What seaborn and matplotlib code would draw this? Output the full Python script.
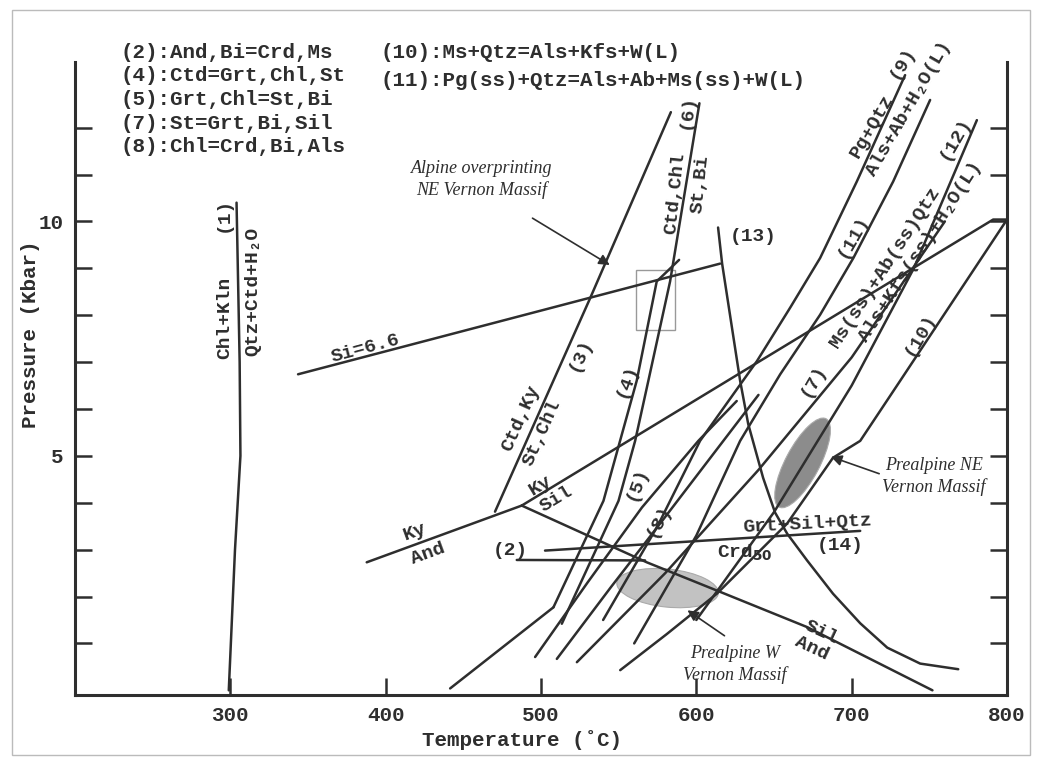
import numpy as np
import matplotlib
matplotlib.use("Agg")
import matplotlib.pyplot as plt
import matplotlib.transforms as mtransforms
from matplotlib.patches import Ellipse, Rectangle
import seaborn as sns

sns.set_theme(style="white")
plt.rcParams['font.family'] = ['Liberation Mono', 'DejaVu Sans Mono']
plt.rcParams['font.weight'] = 'bold'

# reaction curves, temperature (C) and pressure (kbar)
r1_T = [299, 303, 306.5, 306, 304]
r1_P = [0, 3, 5, 7, 10.4]
si_T = [343.6, 615.3]
si_P = [6.74, 9.1]
r13_T = [614, 616.6, 628.2, 633.4, 643, 650.7, 658.5, 671.3, 688, 705.5, 722.9, 744.1, 768.6]
r13_P = [9.87, 9.1, 6.6, 5.68, 4.53, 3.79, 3.34, 2.77, 2.06, 1.43, 0.91, 0.57, 0.45]
r3_T = [470.4, 531.6, 583.6]
r3_P = [3.81, 8.36, 12.33]
kyand_T = [387.8, 487.6]
kyand_P = [2.73, 3.94]
kysil_T = [487.6, 791.1, 800]
kysil_P = [3.94, 10.04, 10.04]
silan_T = [487.6, 568.1, 615.3, 671.2, 752]
silan_P = [3.94, 2.73, 2.1, 1.35, 0]
r2_T = [484.4, 567]
r2_P = [2.78, 2.77]
r14_T = [502.6, 705.5]
r14_P = [2.98, 3.40]
r6_T = [513.4, 549.9, 560.6, 569.1, 583.1, 602]
r6_P = [1.42, 4.04, 5.32, 6.6, 8.72, 12.52]
r4_T = [508, 540.2, 550.9, 561.6, 574.5, 588.9]
r4_P = [1.77, 4.04, 5.32, 6.6, 8.72, 9.18]
r4b_T = [441.5, 508]
r4b_P = [0.04, 1.77]
r5_T = [496.2, 530, 565, 601.3, 626]
r5_P = [0.71, 2.3, 3.9, 5.32, 6.17]
r8_T = [510.2, 545, 580, 610, 640]
r8_P = [0.67, 2.2, 3.7, 5.0, 6.3]
r7_T = [523.1, 580, 640, 700, 760]
r7_P = [0.6, 2.5, 4.7, 7.1, 10.0]
r9_T = [540, 575, 602.4, 639, 660.4, 679.7, 703.3, 734.4]
r9_P = [1.5, 3.5, 5.32, 7.02, 8.16, 9.22, 10.85, 13.12]
r11_T = [560, 600, 628.2, 654, 679.7, 701.1, 726.7, 750.5]
r11_P = [1.0, 3.3, 5.32, 6.74, 8.01, 9.22, 10.85, 12.59]
r12_T = [600, 650, 700, 740, 780.6]
r12_P = [1.5, 3.8, 6.5, 9.0, 12.16]
r10_T = [551, 581, 613.2, 658.3, 688, 705.5, 731.2, 800]
r10_P = [0.43, 1.2, 2.06, 3.55, 4.96, 5.32, 6.6, 10.04]

curves = [(r1_T, r1_P), (si_T, si_P), (r13_T, r13_P), (r3_T, r3_P),
          (kyand_T, kyand_P), (kysil_T, kysil_P), (silan_T, silan_P),
          (r2_T, r2_P), (r14_T, r14_P), (r6_T, r6_P), (r4_T, r4_P),
          (r4b_T, r4b_P), (r5_T, r5_P), (r8_T, r8_P), (r7_T, r7_P),
          (r9_T, r9_P), (r11_T, r11_P), (r12_T, r12_P), (r10_T, r10_P)]

# study areas: centre T, centre P, width px, height px, angle deg
ne_area = [668.4, 4.85, 100, 34, 62]
w_area = [581.5, 2.18, 102, 38, -6]
box_T = [561, 586]
box_P = [7.68, 8.97]

legend_left = ["(2):And,Bi=Crd,Ms", "(4):Ctd=Grt,Chl,St", "(5):Grt,Chl=St,Bi",
               "(7):St=Grt,Bi,Sil", "(8):Chl=Crd,Bi,Als"]
legend_right = ["(10):Ms+Qtz=Als+Kfs+W(L)", "(11):Pg(ss)+Qtz=Als+Ab+Ms(ss)+W(L)"]

# curve labels: text, T, P, rotation
labels = [
    ("(1)", 295.5, 10.14, 90), ("Chl+Kln", 296.6, 7.94, 90),
    ("Qtz+Ctd+H\u2082O", 314.7, 8.51, 90),
    ("Si=6.6", 387, 7.28, 15),
    ("Ctd,Ky", 487, 5.79, 66), ("St,Chl", 500.7, 5.49, 66), ("(3)", 525, 7.17, 66),
    ("Ctd,Chl", 586.3, 10.6, 84), ("St,Bi", 602.4, 10.8, 84), ("(6)", 593.8, 12.34, 84),
    ("(4)", 555.2, 6.6, 70), ("(5)", 561.6, 4.4, 70), ("(8)", 575.6, 3.62, 62),
    ("(13)", 636.8, 9.68, 0),
    ("Ky", 419, 3.37, 20), ("And", 427.3, 2.91, 20),
    ("Ky", 499.4, 4.36, 31), ("Sil", 510.1, 4.08, 31),
    ("Sil", 680.8, 1.24, -25), ("And", 674.3, 0.89, -25),
    ("(2)", 480.1, 2.98, 0),
    ("Grt+Sil+Qtz", 671.2, 3.55, 3), ("Crd$_{50}$", 631, 2.94, 0), ("(14)", 692.6, 3.09, 0),
    ("Pg+Qtz", 713, 12.02, 60), ("(9)", 732.3, 13.4, 60),
    ("Als+Ab+H\u2082O(L)", 736.6, 12.41, 60), ("(11)", 701.2, 9.68, 60),
    ("(12)", 766.6, 11.77, 60), ("Ms(ss)+Ab(ss)Qtz", 721.6, 9.02, 57),
    ("Als+Kfs(ss)+H\u2082O(L)", 744.1, 9.36, 57), ("(7)", 675.4, 6.6, 60),
    ("(10)", 744.1, 7.59, 60),
]

notes = [
    ("Alpine overprinting\nNE Vernon Massif", 461.9, 10.9, 493, 10.1, 545.8, 9.04),
    ("Prealpine NE\nVernon Massif", 753, 4.57, 719.4, 4.6, 685, 5.0),
    ("Prealpine W\nVernon Massif", 625, 0.55, 619.6, 1.13, 592.8, 1.74),
]

fig = plt.figure(figsize=(10.42, 7.63), dpi=100)
ax = fig.add_axes([75 / 1042, 68 / 763, 932 / 1042, 633 / 763])
ax.set_xlim(200, 800)
ax.set_ylim(-0.1, 13.4)

line_kw = dict(color="#2e2e2e", lw=1.8)
for T, P in curves:
    sns.lineplot(x=T, y=P, ax=ax, sort=False, estimator=None, **line_kw)

ax.add_patch(Rectangle((box_T[0], box_P[0]), box_T[1] - box_T[0], box_P[1] - box_P[0],
                       fill=False, ec="#999999", lw=1.0))

for (cT, cP, w, h, ang), fc in [(ne_area, "#8c8c8c"), (w_area, "#c2c2c2")]:
    tr = fig.dpi_scale_trans + mtransforms.ScaledTranslation(cT, cP, ax.transData)
    ax.add_patch(Ellipse((0, 0), w / 100, h / 100, angle=ang, transform=tr,
                         fc=fc, ec="#aaaaaa", lw=0.8, zorder=1))

for txt, T, P, rot in labels:
    ax.text(T, P, txt, rotation=rot, ha="center", va="center", fontsize=14,
            color="#2e2e2e", fontweight="bold", rotation_mode="anchor")

for txt, tx, ty, x0, y0, x1, y1 in notes:
    ax.text(tx, ty, txt, ha="center", va="center", fontsize=13, color="#2e2e2e",
            family=["Liberation Serif"], style="italic", fontweight="normal",
            linespacing=1.3)
    ax.annotate("", xy=(x1, y1), xytext=(x0, y0),
                arrowprops=dict(arrowstyle="-|>", color="#2e2e2e", lw=1.2,
                                mutation_scale=16))

for i, s in enumerate(legend_left):
    fig.text(121 / 1042, 1 - (52 + i * 23.7) / 763, s, fontsize=15, va="center",
             color="#2e2e2e", fontweight="bold")
for i, s in enumerate(legend_right):
    fig.text(381 / 1042, 1 - (52 + i * 28) / 763, s, fontsize=15, va="center",
             color="#2e2e2e", fontweight="bold")

ax.set_xticks([300, 400, 500, 600, 700, 800])
ax.set_yticks(range(1, 13))
ax.set_yticklabels(["5" if v == 5 else "10" if v == 10 else "" for v in range(1, 13)])
ax.tick_params(direction="in", length=12, width=1.8, colors="#2e2e2e",
               labelsize=15, right=True, left=True, bottom=True, pad=8)
ax.tick_params(axis="y", labelright=False)
for s in ["left", "right", "bottom"]:
    ax.spines[s].set_color("#2e2e2e")
    ax.spines[s].set_linewidth(2.2)
ax.spines["top"].set_visible(False)
ax.set_xlabel("Temperature (\u02daC)", fontsize=15, fontweight="bold", color="#2e2e2e")
ax.set_ylabel("Pressure (Kbar)", fontsize=15, fontweight="bold", color="#2e2e2e")
ax.yaxis.set_label_coords(-0.038, 0.57)
ax.xaxis.set_label_coords(0.48, -0.055)

fig.add_artist(Rectangle((12 / 1042, 8 / 763), 1018 / 1042, 745 / 763, fill=False,
                         ec="#bbbbbb", lw=1.0, transform=fig.transFigure))

fig.savefig("out.png", dpi=100)
